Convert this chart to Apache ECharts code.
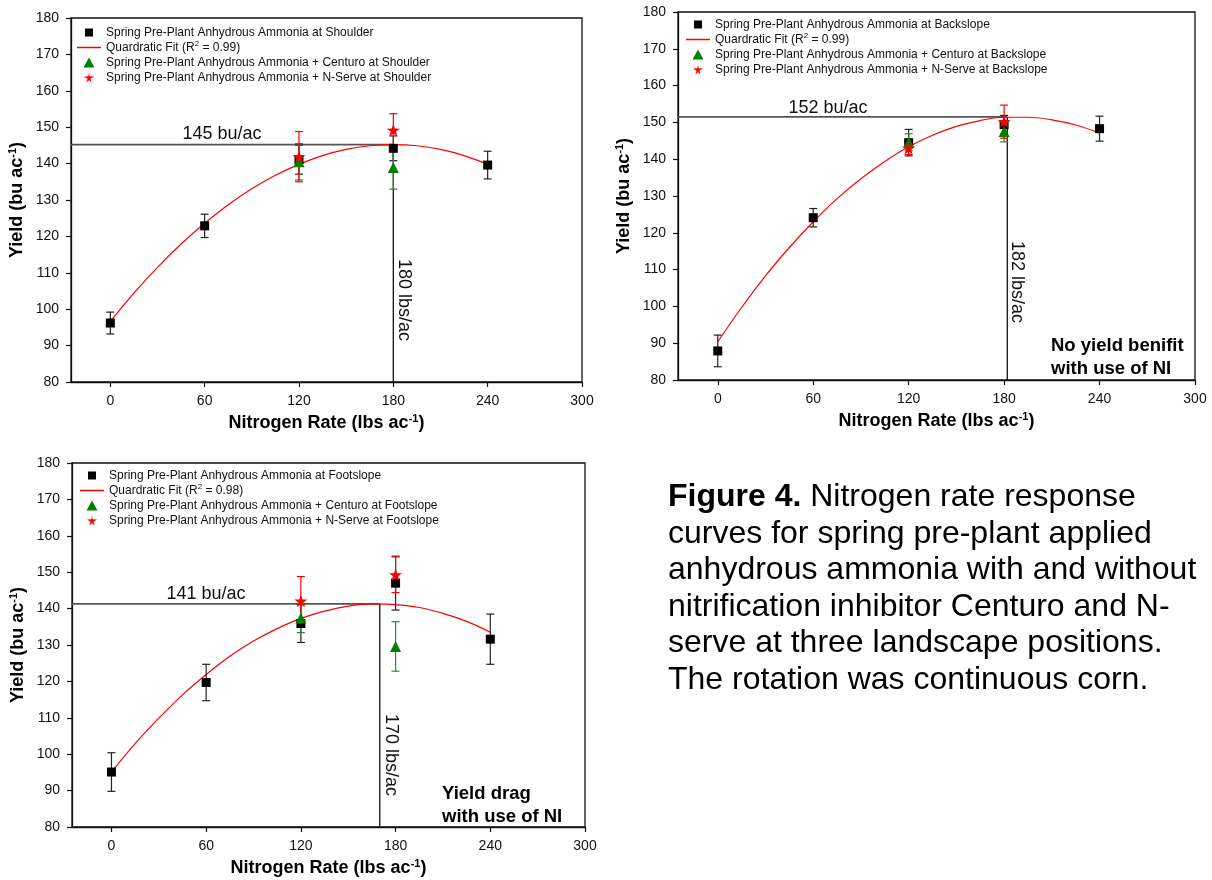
<!DOCTYPE html>
<html><head><meta charset="utf-8">
<script src="https://cdn.jsdelivr.net/npm/echarts@6/dist/echarts.min.js"></script>
<style>html,body{margin:0;padding:0;background:#fff}#c{width:1212px;height:880px}</style>
</head><body><div id="c"></div>
<script>
// ---------------- DATA ----------------
const xTicks = [0, 60, 120, 180, 240, 300];
const xMin = -25, xMax = 300;
const yMin = 80, yMax = 180, yStep = 10;
const nRates = [0, 60, 120, 180, 240];
const niRates = [120, 180];
const fitRates = [0, 15, 30, 45, 60, 75, 90, 105, 120, 135, 150, 165, 180, 195, 210, 225, 240];
const positions = ['Shoulder', 'Backslope', 'Footslope'];
const r2Values = ['0.99', '0.99', '0.98'];
const optimumN = [180, 182, 170];
const optimumYield = [145.2, 151.5, 141.3];

// Shoulder
const shoulderAA = [96.2, 122.9, 141.1, 144.2, 139.6];
const shoulderAAErr = [3.0, 3.2, 4.0, 3.4, 3.8];
const shoulderCenturo = [140.5, 138.9];
const shoulderCenturoErr = [5.0, 5.9];
const shoulderNServe = [141.9, 149.2];
const shoulderNServeErr = [6.9, 4.5];
const shoulderFit = [96.6, 104.4, 111.5, 117.9, 123.6, 128.7, 133.1, 136.8, 139.8, 142.2, 143.9, 144.9, 145.2, 144.9, 143.9, 142.2, 139.8];

// Backslope
const backslopeAA = [87.9, 124.1, 144.5, 149.4, 148.3];
const backslopeAAErr = [4.3, 2.5, 3.6, 2.5, 3.4];
const backslopeCenturo = [144.6, 147.5];
const backslopeCenturoErr = [2.3, 2.8];
const backslopeNServe = [143.0, 150.2];
const backslopeNServeErr = [1.7, 4.5];
const backslopeFit = [90.4, 99.7, 108.3, 116.0, 123.0, 129.3, 134.7, 139.4, 143.4, 146.5, 148.9, 150.5, 151.4, 151.4, 150.7, 149.3, 147.1];

// Footslope
const footslopeAA = [95.1, 119.7, 135.9, 147.0, 131.6];
const footslopeAAErr = [5.3, 5.0, 5.2, 7.4, 6.9];
const footslopeCenturo = [137.4, 129.6];
const footslopeCenturoErr = [4.0, 6.8];
const footslopeNServe = [142.1, 149.3];
const footslopeNServeErr = [6.7, 4.9];
const footslopeFit = [95.1, 102.9, 109.9, 116.3, 121.9, 126.9, 131.1, 134.5, 137.3, 139.3, 140.7, 141.3, 141.1, 140.3, 138.7, 136.5, 133.5];

// ---------------- LAYOUT / STYLE ----------------
const FONT = '"Liberation Sans", Arial, sans-serif';
const panels = [
  {aa: shoulderAA, aaErr: shoulderAAErr, cen: shoulderCenturo, cenErr: shoulderCenturoErr, ns: shoulderNServe, nsErr: shoulderNServeErr, fit: shoulderFit},
  {aa: backslopeAA, aaErr: backslopeAAErr, cen: backslopeCenturo, cenErr: backslopeCenturoErr, ns: backslopeNServe, nsErr: backslopeNServeErr, fit: backslopeFit},
  {aa: footslopeAA, aaErr: footslopeAAErr, cen: footslopeCenturo, cenErr: footslopeCenturoErr, ns: footslopeNServe, nsErr: footslopeNServeErr, fit: footslopeFit}
];
const gridBoxes = [
  {left: 71, top: 18, width: 511, height: 364},
  {left: 678, top: 12, width: 517, height: 368},
  {left: 72, top: 463, width: 513, height: 364}
];
const legendBoxes = [
  {left: 77, top: 25},
  {left: 686, top: 17},
  {left: 80, top: 468}
];
const buLabelPos = [[222, 134], [828, 108], [206, 594]];
const lbsLabelPos = [[404, 300], [1017, 282], [391, 755]];
const STAR = 'path://M50 0 L61.76 33.82 L97.55 34.55 L69.02 56.18 L79.39 90.45 L50 70 L20.61 90.45 L30.98 56.18 L2.45 34.55 L38.24 33.82 Z';
// legend icons in a 240x100 box (= 24x10 px), degenerate corner points fix the bounding box
const BOX = 'M0 0 L0.01 0 Z M240 100 L239.99 100 Z ';
const ICON_SQUARE = 'path://' + BOX + 'M80 10 L160 10 L160 90 L80 90 Z';
const ICON_LINE = 'path://' + BOX + 'M0 43 L240 43 L240 57 L0 57 Z';
const ICON_TRI = 'path://' + BOX + 'M120 0 L175 100 L65 100 Z';
const ICON_STAR = 'path://' + BOX + 'M120 0 L126.5 38.3 L170 39.1 L134.6 62.4 L147 100 L120 77.5 L93 100 L105.4 62.4 L70 39.1 L113.5 38.3 Z';
const BLACK = '#000000', GREEN = '#008000', RED = '#ff0000';

function errSeries(name, xs, ys, es, color, gi) {
  return {
    name: name, type: 'custom', xAxisIndex: gi, yAxisIndex: gi, z: 3,
    data: xs.map((x, i) => [x, ys[i], es[i]]),
    renderItem: function (params, api) {
      const x = api.value(0), y = api.value(1), e = api.value(2);
      const t = api.coord([x, y + e]), b = api.coord([x, y - e]);
      const w = 4;
      const st = {stroke: color, lineWidth: 1.2};
      return {type: 'group', children: [
        {type: 'line', shape: {x1: t[0], y1: t[1], x2: b[0], y2: b[1]}, style: st},
        {type: 'line', shape: {x1: t[0] - w, y1: t[1], x2: t[0] + w, y2: t[1]}, style: st},
        {type: 'line', shape: {x1: b[0] - w, y1: b[1], x2: b[0] + w, y2: b[1]}, style: st}
      ]};
    }
  };
}

const grids = [], xAxes = [], yAxes = [], legends = [], series = [];
panels.forEach((p, gi) => {
  const pos = positions[gi];
  const nmAA = 'Spring Pre-Plant Anhydrous Ammonia at ' + pos;
  // zero-width spaces keep the three fit series names unique
  const nmFit = 'Quardratic Fit (R2 = ' + r2Values[gi] + ')' + '\u200B'.repeat(gi + 1);
  const nmCen = 'Spring Pre-Plant Anhydrous Ammonia + Centuro at ' + pos;
  const nmNS = 'Spring Pre-Plant Anhydrous Ammonia + N-Serve at ' + pos;
  grids.push(Object.assign({show: true, borderColor: '#111', borderWidth: 1.3, backgroundColor: 'transparent', containLabel: false, outerBoundsMode: 'none'}, gridBoxes[gi]));
  xAxes.push({
    type: 'value', gridIndex: gi, min: xMin, max: xMax,
    name: 'Nitrogen Rate (lbs ac{sup|-1})', nameLocation: 'middle', nameGap: 31,
    nameTextStyle: {fontFamily: FONT, fontSize: 18, fontWeight: 'bold', color: '#000', lineHeight: 20,
      rich: {sup: {fontFamily: FONT, fontSize: 11, fontWeight: 'bold', color: '#000', lineHeight: 11, verticalAlign: 'top'}}},
    axisLine: {show: true, onZero: false, lineStyle: {color: '#111', width: 1.3}},
    axisTick: {show: true, inside: false, length: 5, customValues: xTicks, lineStyle: {color: '#111', width: 1.2}},
    axisLabel: {show: true, customValues: xTicks, fontFamily: FONT, fontSize: 14, color: '#111', margin: 12},
    splitLine: {show: false}
  });
  yAxes.push({
    type: 'value', gridIndex: gi, min: yMin, max: yMax, interval: yStep,
    name: 'Yield (bu ac{sup|-1})', nameLocation: 'middle', nameGap: 44,
    nameTextStyle: {fontFamily: FONT, fontSize: 18, fontWeight: 'bold', color: '#000', lineHeight: 20,
      rich: {sup: {fontFamily: FONT, fontSize: 11, fontWeight: 'bold', color: '#000', lineHeight: 11, verticalAlign: 'top'}}},
    axisLine: {show: true, onZero: false, lineStyle: {color: '#111', width: 1.3}},
    axisTick: {show: true, inside: false, length: 5, lineStyle: {color: '#111', width: 1.2}},
    axisLabel: {show: true, fontFamily: FONT, fontSize: 14, color: '#111', margin: 12},
    splitLine: {show: false}
  });
  legends.push(Object.assign({
    orient: 'vertical', itemWidth: 24, itemHeight: 10, itemGap: 0, padding: 0,
    data: [
      {name: nmAA, icon: ICON_SQUARE, itemStyle: {color: BLACK, borderWidth: 0}},
      {name: nmFit, icon: ICON_LINE, itemStyle: {color: RED, borderColor: RED, borderWidth: 0, opacity: 1}, lineStyle: {color: RED, width: 1.2}},
      {name: nmCen, icon: ICON_TRI, itemStyle: {color: GREEN, borderWidth: 0}},
      {name: nmNS, icon: ICON_STAR, itemStyle: {color: RED, borderWidth: 0}}
    ],
    formatter: n => n.replace('(R2', '(R{sup|2}').replace(/\u200B/g, ''),
    selectedMode: false,
    textStyle: {fontFamily: FONT, fontSize: 12, color: '#111', lineHeight: 15, padding: [0, 0, 0, 0],
      rich: {sup: {fontFamily: FONT, fontSize: 8, color: '#111', lineHeight: 8, verticalAlign: 'top'}}}
  }, legendBoxes[gi]));

  // fit
  series.push({
    name: nmFit, type: 'line', xAxisIndex: gi, yAxisIndex: gi, z: 2, symbol: 'none', showSymbol: false, smooth: 0.4,
    data: fitRates.map((x, i) => [x, p.fit[i]]),
    color: RED, lineStyle: {color: RED, width: 1.2}, itemStyle: {color: RED, borderColor: RED}
  });
  // reference lines (optimum)
  series.push({
    name: 'optH' + gi, type: 'line', xAxisIndex: gi, yAxisIndex: gi, z: 1, symbol: 'none', silent: true,
    data: [[xMin, optimumYield[gi]], [optimumN[gi], optimumYield[gi]]],
    color: '#555', lineStyle: {color: '#555', width: 1.8}
  });
  series.push({
    name: 'optV' + gi, type: 'line', xAxisIndex: gi, yAxisIndex: gi, z: 1, symbol: 'none', silent: true,
    data: [[optimumN[gi], optimumYield[gi]], [optimumN[gi], yMin]],
    color: '#111', lineStyle: {color: '#111', width: 1.3}
  });
  // AA
  series.push(errSeries('errAA' + gi, nRates, p.aa, p.aaErr, '#222', gi));
  series.push({
    name: nmAA, type: 'scatter', xAxisIndex: gi, yAxisIndex: gi, z: 4,
    symbol: 'rect', symbolSize: 9, itemStyle: {color: BLACK, opacity: 1},
    data: nRates.map((x, i) => [x, p.aa[i]])
  });
  // Centuro
  series.push(errSeries('errCen' + gi, niRates, p.cen, p.cenErr, '#2a8a2a', gi));
  series.push({
    name: nmCen, type: 'scatter', xAxisIndex: gi, yAxisIndex: gi, z: 4,
    symbol: 'triangle', symbolSize: 11, itemStyle: {color: GREEN, opacity: 1},
    data: niRates.map((x, i) => [x, p.cen[i]])
  });
  // N-Serve
  series.push(errSeries('errNS' + gi, niRates, p.ns, p.nsErr, RED, gi));
  series.push({
    name: nmNS, type: 'scatter', xAxisIndex: gi, yAxisIndex: gi, z: 4,
    symbol: STAR, symbolSize: 13, symbolKeepAspect: true, itemStyle: {color: RED, opacity: 1},
    data: niRates.map((x, i) => [x, p.ns[i]])
  });
});

const graphics = [];
for (let gi = 0; gi < 3; gi++) {
  graphics.push({type: 'text', x: buLabelPos[gi][0], y: buLabelPos[gi][1], silent: true,
    style: {text: Math.round(optimumYield[gi]) + ' bu/ac', fontFamily: FONT, fontSize: 18, fill: '#111', align: 'center', verticalAlign: 'middle'}});
  graphics.push({type: 'text', x: lbsLabelPos[gi][0], y: lbsLabelPos[gi][1], rotation: -Math.PI / 2, silent: true,
    style: {text: optimumN[gi] + ' lbs/ac', fontFamily: FONT, fontSize: 18, fill: '#111', align: 'center', verticalAlign: 'middle'}});
}
graphics.push({type: 'text', x: 1051, y: 334, silent: true,
  style: {text: 'No yield benifit\nwith use of NI', fontFamily: FONT, fontSize: 18.5, fontWeight: 'bold', fill: '#000', lineHeight: 23, align: 'left', verticalAlign: 'top'}});
graphics.push({type: 'text', x: 442, y: 782, silent: true,
  style: {text: 'Yield drag\nwith use of NI', fontFamily: FONT, fontSize: 18.5, fontWeight: 'bold', fill: '#000', lineHeight: 23, align: 'left', verticalAlign: 'top'}});
graphics.push({type: 'text', x: 668, y: 479, silent: true,
  style: {
    text: '{b|Figure 4.} Nitrogen rate response\ncurves for spring pre-plant applied\nanhydrous ammonia with and without\nnitrification inhibitor Centuro and N-\nserve at three landscape positions.\nThe rotation was continuous corn.',
    fontFamily: FONT, fontSize: 32, fill: '#000', lineHeight: 36.5, align: 'left', verticalAlign: 'top',
    rich: {b: {fontFamily: FONT, fontSize: 32, fontWeight: 'bold', fill: '#000', lineHeight: 36.5}}
  }});

const chart = echarts.init(document.getElementById('c'), null, {renderer: 'canvas'});
chart.setOption({
  backgroundColor: '#ffffff',
  animation: false,
  grid: grids, xAxis: xAxes, yAxis: yAxes, legend: legends, series: series, graphic: graphics
});
</script></body></html>
